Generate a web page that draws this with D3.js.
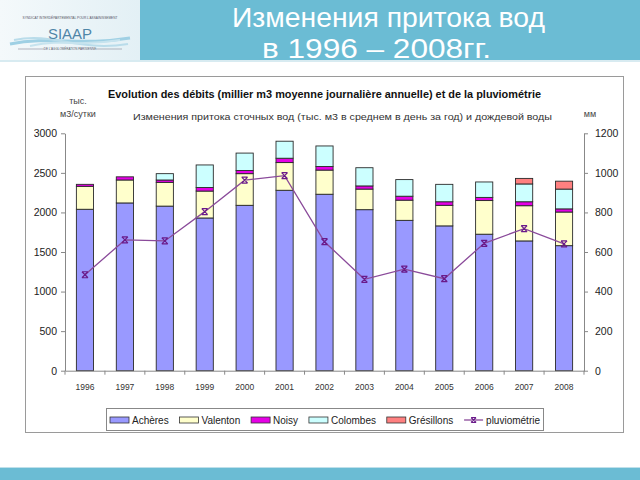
<!DOCTYPE html>
<html><head><meta charset="utf-8">
<script src="https://cdn.jsdelivr.net/npm/d3@7"></script>
<style>body{margin:0;background:#fff} svg{display:block}</style>
</head><body>
<svg id="c" width="640" height="480"></svg>
<script>
// ---- data ----
const years = ["1996","1997","1998","1999","2000","2001","2002","2003","2004","2005","2006","2007","2008"];
const acheres    = [2040,2120,2080,1930,2090,2280,2230,2035,1900,1830,1725,1640,1580];
const valenton   = [290,290,300,340,400,350,305,260,255,260,425,445,425];
const noisy      = [25,40,30,45,40,55,45,40,50,45,40,50,40];
const colombes   = [0,0,80,285,220,215,260,230,210,220,195,225,250];
const gresillons = [0,0,0,0,0,0,0,0,0,0,0,70,100];
const pluvio     = [485,661,656,804,963,986,652,462,513,465,644,718,641];
const leftTicks  = [0,500,1000,1500,2000,2500,3000];
const rightTicks = [0,200,400,600,800,1000,1200];
const seriesNames = ["Achères","Valenton","Noisy","Colombes","Grésillons"];
const seriesColors = ["#9999ff","#ffffcc","#e600e6","#ccffff","#ff8080"];
const lineName = "pluviométrie";
const headerTitle = ["Изменения притока вод","в 1996 – 2008гг."];
const chartTitle = "Evolution des débits (millier m3 moyenne journalière annuelle) et de la pluviométrie";
const chartSubtitle = "Изменения притока сточных вод (тыс. м3 в среднем в день за год) и дождевой воды";
const leftUnit = ["тыс.","м3/сутки"];
const rightUnit = "мм";

const svg = d3.select("#c");
const FONT = "Liberation Sans, Arial, sans-serif";

// ---- header ----
const defs = svg.append("defs");
const lg = defs.append("linearGradient").attr("id","logoBg").attr("x1",0).attr("x2",1);
lg.append("stop").attr("offset","0").attr("stop-color","#f4f9fb");
lg.append("stop").attr("offset","1").attr("stop-color","#e3f0f5");
svg.append("rect").attr("x",0).attr("y",0).attr("width",140).attr("height",60).attr("fill","url(#logoBg)");
svg.append("rect").attr("x",140).attr("y",0).attr("width",500).attr("height",60).attr("fill","#6bbcd4");
svg.append("rect").attr("x",0).attr("y",60).attr("width",640).attr("height",2).attr("fill","#d8ebf1");
// logo
const logo = svg.append("g");
[[10,44,130,38,"#9fd0e4",3],[14,40,128,44,"#b9dcea",2],[30,46,120,40,"#c6e3ee",2]].forEach(w=>{
  const p = d3.path();
  p.moveTo(w[0],w[1]);
  p.bezierCurveTo(w[0]+40,w[1]-8,w[2]-50,w[3]+8,w[2],w[3]);
  logo.append("path").attr("d",p.toString()).attr("fill","none").attr("stroke",w[4]).attr("stroke-width",w[5]);
});
logo.append("text").attr("x",70).attr("y",19).attr("text-anchor","middle").attr("font-family",FONT)
  .attr("font-size",3.2).attr("fill","#556").text("SYNDICAT INTERDÉPARTEMENTAL POUR L'ASSAINISSEMENT");
logo.append("text").attr("x",70).attr("y",39).attr("text-anchor","middle").attr("font-family",FONT)
  .attr("font-size",15).attr("fill","#4f86a8").attr("textLength",44).attr("lengthAdjust","spacingAndGlyphs").text("SIAAP");
logo.append("text").attr("x",70).attr("y",50).attr("text-anchor","middle").attr("font-family",FONT)
  .attr("font-size",3).attr("fill","#556").text("DE L'AGGLOMÉRATION PARISIENNE");
logo.append("line").attr("x1",18).attr("x2",44).attr("y1",49).attr("y2",49).attr("stroke","#889").attr("stroke-width",0.6);
logo.append("line").attr("x1",96).attr("x2",122).attr("y1",49).attr("y2",49).attr("stroke","#889").attr("stroke-width",0.6);

svg.append("text").attr("x",232).attr("y",27).attr("font-family",FONT).attr("font-size",28).attr("fill","#fff")
  .attr("textLength",313).attr("lengthAdjust","spacingAndGlyphs").text(headerTitle[0]);
svg.append("text").attr("x",262).attr("y",58).attr("font-family",FONT).attr("font-size",28).attr("fill","#fff")
  .attr("textLength",229).attr("lengthAdjust","spacingAndGlyphs").text(headerTitle[1]);

// bottom band
svg.append("rect").attr("x",0).attr("y",468).attr("width",640).attr("height",12).attr("fill","#6bbcd4");
svg.append("rect").attr("x",0).attr("y",467).attr("width",640).attr("height",1).attr("fill","#bfe0ea");

// ---- chart frame ----
svg.append("rect").attr("x",25.5).attr("y",76.5).attr("width",598).attr("height",356)
  .attr("fill","#fff").attr("stroke","#9a9a9a").attr("stroke-width",1);

svg.append("text").attr("x",108).attr("y",98).attr("font-family",FONT).attr("font-weight","bold")
  .attr("font-size",11).attr("fill","#111").attr("textLength",433).attr("lengthAdjust","spacingAndGlyphs").text(chartTitle);
svg.append("text").attr("x",133).attr("y",120).attr("font-family",FONT)
  .attr("font-size",9).attr("fill","#333").attr("textLength",419).attr("lengthAdjust","spacingAndGlyphs").text(chartSubtitle);
svg.append("text").attr("x",78).attr("y",104).attr("text-anchor","middle").attr("font-family",FONT)
  .attr("font-size",9).attr("fill","#444").text(leftUnit[0]);
svg.append("text").attr("x",78).attr("y",117).attr("text-anchor","middle").attr("font-family",FONT)
  .attr("font-size",9).attr("fill","#444").text(leftUnit[1]);
svg.append("text").attr("x",590).attr("y",117).attr("text-anchor","middle").attr("font-family",FONT)
  .attr("font-size",9).attr("fill","#444").text(rightUnit);

// ---- scales ----
const x0 = 65, x1 = 584, yTop = 133.3, yBot = 370.7;
const x = d3.scaleBand().domain(years).range([x0,x1]).paddingInner(0.57).paddingOuter(0.285);
const y = d3.scaleLinear().domain([0,3000]).range([yBot,yTop]);
const y2 = d3.scaleLinear().domain([0,1200]).range([yBot,yTop]);

// ---- stacked bars ----
const rows = years.map((yr,i)=>({year:yr,"Achères":acheres[i],"Valenton":valenton[i],"Noisy":noisy[i],"Colombes":colombes[i],"Grésillons":gresillons[i]}));
const stacked = d3.stack().keys(seriesNames)(rows);
const gBars = svg.append("g");
stacked.forEach((s,si)=>{
  gBars.selectAll(null).data(s.filter(d=>d[1]-d[0]>0)).enter().append("rect")
    .attr("x",d=>x(d.data.year)).attr("width",x.bandwidth())
    .attr("y",d=>y(d[1])).attr("height",d=>y(d[0])-y(d[1]))
    .attr("fill",seriesColors[si]).attr("stroke","#2a2a2a").attr("stroke-width",0.9);
});

// ---- axes ----
const axL = svg.append("g").attr("transform",`translate(${x0},0)`)
  .call(d3.axisLeft(y).tickValues(leftTicks).tickSize(4).tickSizeOuter(0).tickPadding(4).tickFormat(d3.format("d")));
const axR = svg.append("g").attr("transform",`translate(${x1},0)`)
  .call(d3.axisRight(y2).tickValues(rightTicks).tickSize(4).tickSizeOuter(0).tickPadding(7).tickFormat(d3.format("d")));
const axB = svg.append("g").attr("transform",`translate(0,${yBot})`)
  .call(d3.axisBottom(x).tickSize(0).tickSizeOuter(0).tickPadding(13));
[axL,axR,axB].forEach(a=>{
  a.selectAll("path.domain").attr("stroke","#888");
  a.selectAll(".tick line").attr("stroke","#888");
  a.selectAll("text").attr("font-family",FONT).attr("fill","#222");
});
axL.selectAll("text").attr("font-size",10.5);
axR.selectAll("text").attr("font-size",10.5);
axB.selectAll("text").attr("font-size",8.5).attr("fill","#333");
// category boundary ticks
const half = (x.step()-x.bandwidth())/2;
const bounds = years.map(yr=>x(yr)-half).concat([x1]);
axB.selectAll("line.bt").data(bounds).enter().append("line").attr("class","bt")
  .attr("x1",d=>d).attr("x2",d=>d).attr("y1",0).attr("y2",4).attr("stroke","#888");

// ---- line ----
const lineColor = "#8a4a9a", markColor = "#6a1a8a";
const pts = years.map((yr,i)=>[x(yr)+x.bandwidth()/2, y2(pluvio[i])]);
svg.append("path").attr("d",d3.line()(pts)).attr("fill","none").attr("stroke",lineColor).attr("stroke-width",1.3);
const star = (g,cx,cy,r)=>{
  const p = d3.path();
  p.moveTo(cx-r,cy-r); p.lineTo(cx+r,cy+r);
  p.moveTo(cx+r,cy-r); p.lineTo(cx-r,cy+r);
  p.moveTo(cx-r,cy-r); p.lineTo(cx+r,cy-r);
  p.moveTo(cx-r,cy+r); p.lineTo(cx+r,cy+r);
  g.append("path").attr("d",p.toString()).attr("stroke",markColor).attr("stroke-width",1.2).attr("fill","none");
};
const gM = svg.append("g");
pts.forEach(p=>star(gM,p[0],p[1],3));

// ---- legend ----
svg.append("rect").attr("x",106.5).attr("y",408.5).attr("width",437).attr("height",22)
  .attr("fill","#fff").attr("stroke","#888").attr("stroke-width",1);
const lgY = 420;
const gL = svg.append("g");
const legendItems = seriesNames.map((n,i)=>({name:n,color:seriesColors[i],line:false})).concat([{name:lineName,line:true}]);
const texts = legendItems.map(it=>gL.append("text").attr("y",lgY+3.5).attr("font-family",FONT)
  .attr("font-size",10).attr("fill","#222").text(it.name));
const widths = texts.map(t=>t.node().getComputedTextLength());
const sw = 19, sg = 3;
const innerL = 110, innerR = 540;
const totalW = d3.sum(widths) + legendItems.length*(sw+sg);
const gap = (innerR-innerL-totalW)/(legendItems.length-1);
let cx = innerL;
legendItems.forEach((it,i)=>{
  if(it.line){
    gL.append("line").attr("x1",cx).attr("x2",cx+sw).attr("y1",lgY).attr("y2",lgY).attr("stroke",lineColor).attr("stroke-width",1.3);
    star(gL,cx+sw/2,lgY,2.5);
  } else {
    gL.append("rect").attr("x",cx).attr("y",lgY-3).attr("width",sw).attr("height",6)
      .attr("fill",it.color).attr("stroke","#333").attr("stroke-width",0.8);
  }
  texts[i].attr("x",cx+sw+sg);
  cx += sw+sg+widths[i]+gap;
});
</script>
</body></html>
